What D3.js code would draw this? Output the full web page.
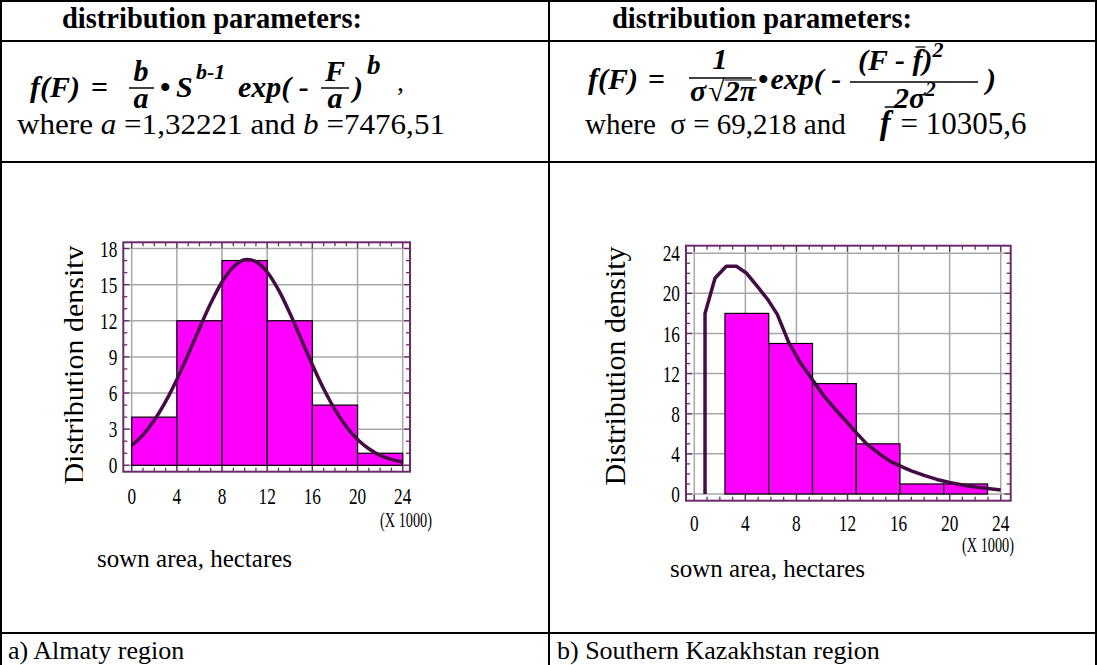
<!DOCTYPE html>
<html><head><meta charset="utf-8">
<script src="https://cdn.jsdelivr.net/npm/d3@7"></script>
<style>
html,body{margin:0;padding:0;background:#fff;}
svg text{white-space:pre;font-family:"Liberation Serif","Times New Roman",serif;}
</style></head>
<body><svg id="c" width="1097" height="665"></svg>
<script>
// ---------- data ----------
const leftBinEdges = [0, 4, 8, 12, 16, 20, 24];
const leftCounts = [4, 12, 17, 12, 5, 1];
const leftCurveX = [0,1,2,3,4,5,6,7,8,9,10,11,12,13,14,15,16,17,18,19,20,21,22,23,24];
const leftCurveY = [1.64,2.53,3.74,5.28,7.12,9.2,11.37,13.45,15.22,16.47,17.07,16.91,16.04,14.56,12.64,10.5,8.35,6.35,4.62,3.22,2.14,1.37,0.83,0.49,0.27];
const leftXTicks = [0, 4, 8, 12, 16, 20, 24];
const leftYTicks = [0, 3, 6, 9, 12, 15, 18];

const rightBinEdges = [2.4, 5.83, 9.26, 12.69, 16.11, 19.54, 22.97];
const rightCounts = [18, 15, 11, 5, 1, 1];
const rightCurveX = [0.84,0.84,1.62,2.5,3.3,4.1,5.0,5.8,6.5,7.4,8.3,9.3,10.2,11.0,12.0,12.7,13.5,14.5,15.3,16.1,17.0,18.0,19.0,20.0,21.0,22.0,23.0,24.0];
const rightCurveY = [0,18.0,21.5,22.7,22.7,22.0,20.6,19.3,17.9,15.1,13.1,11.3,9.7,8.5,7.1,6.1,5.0,4.0,3.3,2.8,2.3,1.85,1.45,1.15,0.9,0.7,0.55,0.4];
const rightXTicks = [0, 4, 8, 12, 16, 20, 24];
const rightYTicks = [0, 4, 8, 12, 16, 20, 24];

const headerText = "distribution parameters:";
const xUnitText = "(X 1000)";
const xTitle = "sown area, hectares";
const yTitle = "Distribution density";
const captions = ["a) Almaty region", "b) Southern Kazakhstan region"];

// ---------- drawing ----------
const svg = d3.select("#c");
svg.append("rect").attr("width",1097).attr("height",665).attr("fill","#fff");

const FRAME = "#6b2b6b", CURVE = "#450b45", GRID = "#a8a8a8", BAR = "#ff00ff";

// table
const tbl = svg.append("g").attr("stroke","#000").attr("stroke-width",2);
[[0,1,1097,1],[0,41,1097,41],[0,162,1097,162],[0,633,1097,633],
 [1,0,1,665],[549,0,549,665],[1096,0,1096,665]].forEach(l=>{
  tbl.append("line").attr("x1",l[0]).attr("y1",l[1]).attr("x2",l[2]).attr("y2",l[3]);
});

function txt(x, y, s, o) {
  o = o || {};
  const el = svg.append("text").attr("x", x).attr("y", y)
    .attr("font-size", o.size||30).attr("font-weight", o.w||"bold")
    .attr("font-style", o.it===false ? "normal" : "italic").text(s);
  if (o.anchor) el.attr("text-anchor", o.anchor);
  return el;
}
function seq(x0, y, parts) {
  let x = x0; const out = [];
  for (const p of parts) {
    if (p.gap) { x += p.gap; continue; }
    const el = txt(x, y + (p.dy||0), p.s, p);
    const w = el.node().getComputedTextLength();
    out.push({x, w});
    x += w;
  }
  return {x, out};
}
function hline(x1,x2,y,sw){ svg.append("line").attr("x1",x1).attr("x2",x2).attr("y1",y).attr("y2",y).attr("stroke","#000").attr("stroke-width",sw||1.5); }

// headers
[62, 612].forEach(x => svg.append("text").attr("x",x).attr("y",28).attr("font-size",28.5).attr("font-weight","bold").text(headerText));

// left formula
{
  const B = 97;
  txt(30, B, "f(F)");
  txt(91, B, "=", {it:false});
  txt(141, 81, "b", {anchor:"middle"}); hline(129,154,88); txt(141, 108, "a", {anchor:"middle"});
  txt(160, B, "•", {it:false});
  txt(176, B, "S");
  txt(196, B-18, "b-1", {size:22});
  txt(238, B, "exp( -");
  txt(335, 81, "F", {anchor:"middle"}); hline(321,349,88); txt(335, 108, "a", {anchor:"middle"});
  txt(353, B, ")");
  txt(367, B-23, "b", {size:27});
  txt(397, B-6, ",", {it:false, w:"normal", size:28});
  const w = svg.append("text").attr("x",17).attr("y",134).attr("font-size",30)
    .attr("textLength",428).attr("lengthAdjust","spacingAndGlyphs");
  w.append("tspan").text("where ");
  w.append("tspan").attr("font-style","italic").text("a");
  w.append("tspan").text(" =1,32221 and ");
  w.append("tspan").attr("font-style","italic").text("b");
  w.append("tspan").text(" =7476,51");
}
// right formula
{
  const B = 89;
  txt(588, B, "f(F)");
  txt(648, B, "=", {it:false});
  txt(720, 69, "1", {anchor:"middle"});
  hline(689, 752, 78);
  const d = seq(690, 101, [{s:"σ"},{gap:2},{s:"√",it:false},{s:"2π"}]);
  hline(d.out[2].x, d.x, 80, 1.2);
  seq(758, B, [{s:"•",it:false},{gap:2},{s:"exp( -"}]);
  const n = seq(858, 70, [{s:"(F - "},{s:"f"},{s:")"},{s:"2",size:22,dy:-13}]);
  hline(n.out[1].x+3, n.out[1].x+n.out[1].w+3, 47, 1.3);
  hline(850, 978, 82);
  seq(894, 108, [{s:"2σ"},{s:"2",size:21,dy:-12}]);
  txt(986, B, ")");
  const w = seq(585, 134, [{s:"where  σ = 69,218 and",w:"normal",it:false,size:29},{gap:34},{s:"f",size:33},{gap:2},{s:" = 10305,6",w:"normal",it:false,size:31}]);
  hline(w.out[1].x+5, w.out[1].x+w.out[1].w+5, 107, 1.5);
}

// chart builder
function chart(cfg) {
  const x = d3.scaleLinear().domain([0,24]).range(cfg.xr);
  const y = d3.scaleLinear().domain([0,cfg.ymax]).range(cfg.yr);
  const g = svg.append("g");
  const fx0 = cfg.xr[0]-cfg.pad[0], fx1 = cfg.xr[1]+cfg.pad[1], fy0 = cfg.yr[1]-cfg.pad[2], fy1 = cfg.yr[0]+cfg.pad[3];
  // grid
  g.selectAll(".gx").data(cfg.xTicks).join("line").attr("class","gx").attr("x1",d=>x(d)).attr("x2",d=>x(d)).attr("y1",fy0).attr("y2",fy1)
    .attr("stroke",GRID).attr("stroke-width",1.5);
  g.selectAll(".gy").data(cfg.yTicks).join("line").attr("class","gy").attr("y1",d=>y(d)).attr("y2",d=>y(d)).attr("x1",fx0).attr("x2",fx1)
    .attr("stroke",GRID).attr("stroke-width",1.5);
  // bars
  g.selectAll(".bar").data(cfg.counts).join("rect").attr("class","bar")
    .attr("x",(d,i)=>x(cfg.edges[i])).attr("width",(d,i)=>x(cfg.edges[i+1])-x(cfg.edges[i]))
    .attr("y",d=>y(d)).attr("height",d=>y(0)-y(d))
    .attr("fill",BAR).attr("stroke","#000").attr("stroke-width",1.2);
  // curve
  const pts = cfg.cx.map((v,i)=>[v,cfg.cy[i]]);
  g.append("path").attr("d", d3.line().x(d=>x(d[0])).y(d=>y(d[1])).curve(cfg.curve)(pts))
    .attr("fill","none").attr("stroke",CURVE).attr("stroke-width",3.5).attr("stroke-linejoin","round");
  // frame
  g.append("rect").attr("x",fx0).attr("y",fy0).attr("width",fx1-fx0).attr("height",fy1-fy0)
    .attr("fill","none").attr("stroke",FRAME).attr("stroke-width",2);
  const minorX = d3.range(0,25,1), minorY = d3.range(0,cfg.ymax+1,1);
  const tk = g.append("g").attr("stroke",FRAME).attr("stroke-width",1.3);
  minorX.forEach(v=>{
    const L = cfg.xTicks.includes(v)?6:4;
    tk.append("line").attr("x1",x(v)).attr("x2",x(v)).attr("y1",fy1).attr("y2",fy1-L);
    tk.append("line").attr("x1",x(v)).attr("x2",x(v)).attr("y1",fy0).attr("y2",fy0+L);
  });
  minorY.forEach(v=>{
    const L = cfg.yTicks.includes(v)?6:4;
    tk.append("line").attr("y1",y(v)).attr("y2",y(v)).attr("x1",fx0).attr("x2",fx0+L);
    tk.append("line").attr("y1",y(v)).attr("y2",y(v)).attr("x1",fx1).attr("x2",fx1-L);
  });
  // tick labels (condensed)
  g.selectAll(".yl").data(cfg.yTicks).join("text").attr("class","yl")
    .attr("transform",d=>`translate(${fx0-6},${y(d)}) scale(0.72,1)`)
    .attr("text-anchor","end").attr("dominant-baseline","central").attr("font-size",24).text(d=>d);
  g.selectAll(".xl").data(cfg.xTicks).join("text").attr("class","xl")
    .attr("transform",d=>`translate(${x(d)},${cfg.xLabelY}) scale(0.72,1)`)
    .attr("text-anchor","middle").attr("dominant-baseline","central").attr("font-size",24).text(d=>d);
  g.append("text").attr("transform",`translate(${cfg.unitPos[0]},${cfg.unitPos[1]}) scale(0.68,1)`)
    .attr("text-anchor","middle").attr("dominant-baseline","central").attr("font-size",21).text(xUnitText);
  g.append("text").attr("x",cfg.titlePos[0]).attr("y",cfg.titlePos[1]).attr("dominant-baseline","central")
    .attr("font-size",25).text(xTitle);
  const tg = g.append("g");
  if (cfg.clipId) tg.attr("clip-path",`url(#${cfg.clipId})`);
  tg.append("text").attr("transform",`translate(${cfg.yTitlePos[0]},${cfg.yTitlePos[1]}) rotate(-90)`)
    .attr("text-anchor","middle").attr("font-size",30).text(yTitle);
}

svg.append("defs").append("clipPath").attr("id","lclip").attr("clipPathUnits","userSpaceOnUse")
  .append("rect").attr("x",0).attr("y",170).attr("width",83).attr("height",400);

chart({xr:[131.7,402.7], yr:[465.3,248.5], ymax:18, pad:[8.4,7.3,6.2,6.4],
  edges:leftBinEdges, counts:leftCounts, cx:leftCurveX, cy:leftCurveY, curve:d3.curveCatmullRom,
  xTicks:leftXTicks, yTicks:leftYTicks, xLabelY:496, unitPos:[406,520], titlePos:[97,558], yTitlePos:[84,365], clipId:"lclip"});
chart({xr:[694.3,1000.7], yr:[494,253.2], ymax:24, pad:[8.3,10,7.5,6.7],
  edges:rightBinEdges, counts:rightCounts, cx:rightCurveX, cy:rightCurveY, curve:d3.curveLinear,
  xTicks:rightXTicks, yTicks:rightYTicks, xLabelY:522.5, unitPos:[988,545], titlePos:[670,568], yTitlePos:[625,366]});

// captions
svg.append("text").attr("x",8).attr("y",650).attr("dominant-baseline","central").attr("font-size",26).text(captions[0]);
svg.append("text").attr("x",557).attr("y",650).attr("dominant-baseline","central").attr("font-size",26).text(captions[1]);
</script></body></html>
